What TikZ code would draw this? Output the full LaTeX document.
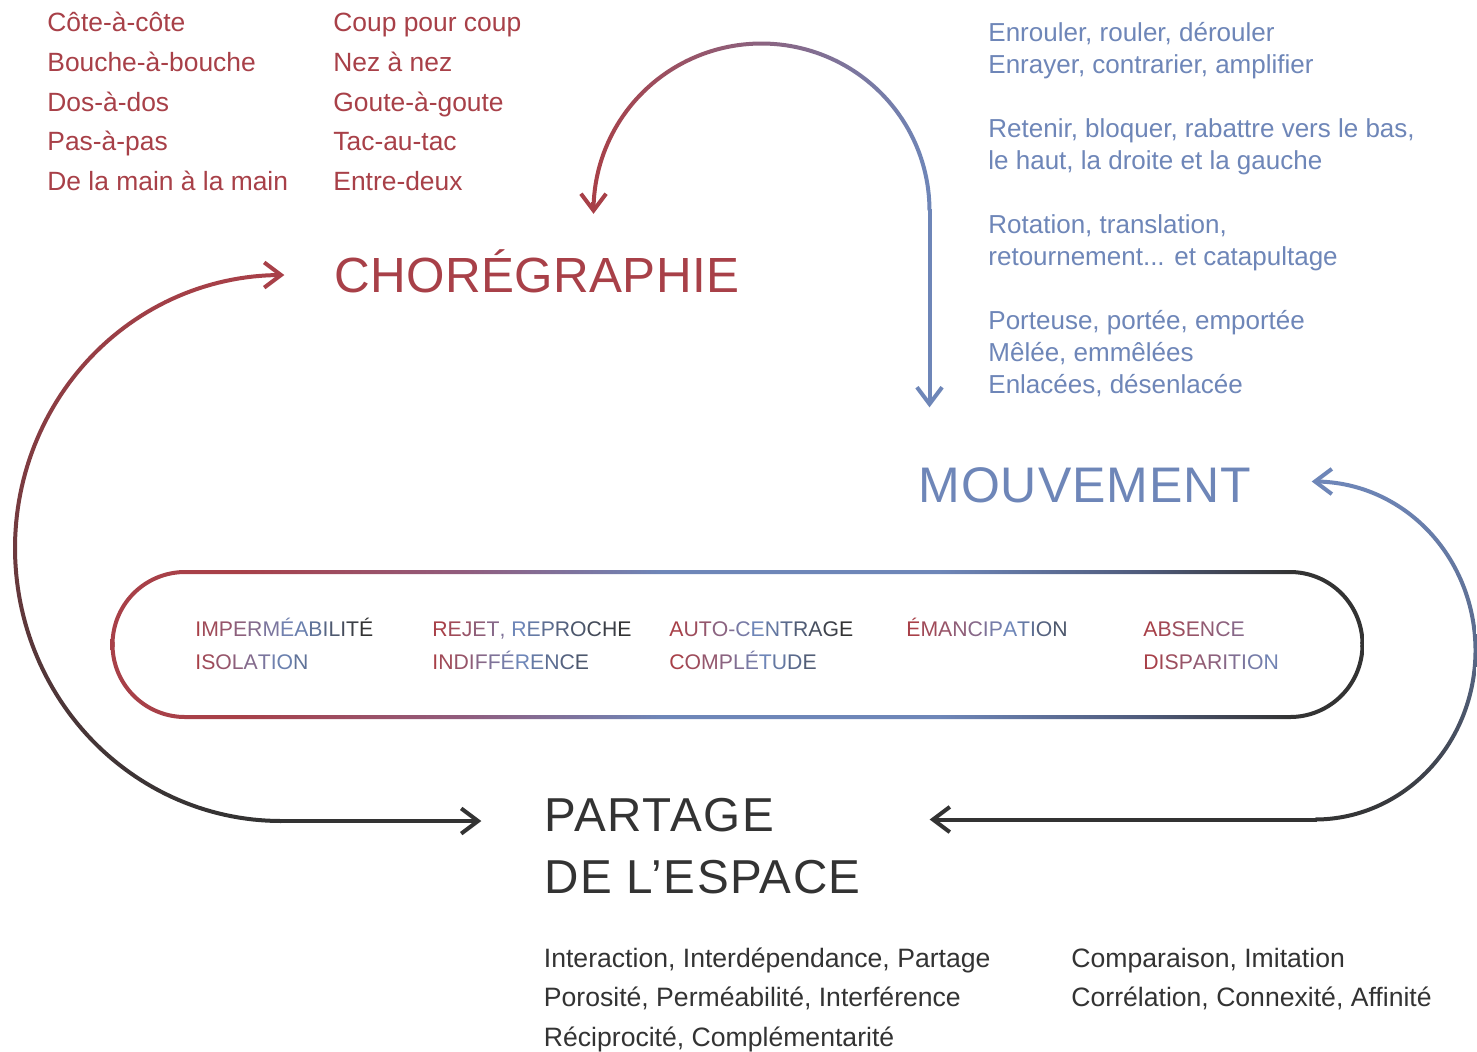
\documentclass[tikz,border=0pt]{standalone}
\usepackage{fontspec}
\setmainfont{Liberation Sans}
\usetikzlibrary{calc}
\definecolor{cred}{RGB}{168,64,72}
\definecolor{cblue}{RGB}{110,134,184}
\definecolor{cdark}{RGB}{51,51,51}
\definecolor{cmid}{RGB}{140,98,130}
\definecolor{cmauve}{RGB}{145,92,125}
\definecolor{cslate}{RGB}{80,92,125}
\pgfdeclarehorizontalshading{trackgrad}{100bp}{color(0bp)=(cred); color(30bp)=(cred); color(39bp)=(cmauve); color(47bp)=(cblue); color(58bp)=(cblue); color(66bp)=(cslate); color(72bp)=(cdark); color(100bp)=(cdark)}
\ExplSyntaxOn
\int_new:N \l__grad_idx_int
\fp_new:N \l__grad_t_fp
\NewDocumentCommand \gradtext { m m }
  {
    \int_zero:N \l__grad_idx_int
    \tl_map_inline:nn { #2 }
      {
        \fp_set:Nn \l__grad_t_fp { \l__grad_idx_int / ( #1 - 1 ) }
        \fp_compare:nNnTF { \l__grad_t_fp } < { 0.5 }
          {
            \exp_args:Nx \color
              { cblue ! \fp_eval:n { round ( 200 * \l__grad_t_fp , 2 ) } ! cred }
          }
          {
            \exp_args:Nx \color
              { cdark ! \fp_eval:n { round ( min ( 100 , 200 * ( \l__grad_t_fp - 0.5 ) ) , 2 ) } ! cblue }
          }
        ##1
        \int_incr:N \l__grad_idx_int
      }
  }
\ExplSyntaxOff
\begin{document}
\begin{tikzpicture}[x=0.5pt,y=-0.5pt,
  lbl/.style={anchor=base west, inner sep=0pt},
  redtxt/.style={lbl, text=cred, font=\fontsize{13.2}{16}\selectfont},
  bluetxt/.style={lbl, text=cblue, font=\fontsize{13}{16}\selectfont},
  darktxt/.style={lbl, text=cdark, font=\fontsize{13.3}{16}\selectfont},
  trk/.style={lbl, font=\fontsize{10.6}{13}\selectfont},
  arrowhd/.style={line width=2pt, line join=miter, line cap=butt},
  shaft/.style={line width=2pt, line cap=butt}]
\fill[white] (0,0) rectangle (1477,1051);
\useasboundingbox (0,0) rectangle (1477,1051);

% ---------- red lists ----------
\node[redtxt] (ra1) at (47,31.5) {Côte-à-côte};
\node[redtxt] (ra2) at (47,71.25) {Bouche-à-bouche};
\node[redtxt] (ra3) at (47,111) {Dos-à-dos};
\node[redtxt] (ra4) at (47,150.75) {Pas-à-pas};
\node[redtxt] (ra5) at (47,190.5) {De la main à la main};
\node[redtxt] (rb1) at (333,31.5) {Coup pour coup};
\node[redtxt] (rb2) at (333,71.25) {Nez à nez};
\node[redtxt] (rb3) at (333,111) {Goute-à-goute};
\node[redtxt] (rb4) at (333,150.75) {Tac-au-tac};
\node[redtxt] (rb5) at (333,190.5) {Entre-deux};

% ---------- blue list ----------
\node[bluetxt] (bl1) at (988,41.5) {Enrouler, rouler, dérouler};
\node[bluetxt] (bl2) at (988,73.5) {Enrayer, contrarier, amplifier};
\node[bluetxt] (bl3) at (988,137.5) {Retenir, bloquer, rabattre vers le bas,};
\node[bluetxt] (bl4) at (988,169.5) {le haut, la droite et la gauche};
\node[bluetxt] (bl5) at (988,233.5) {Rotation, translation,};
\node[bluetxt] (bl6) at (988,265.5) {retournement... et catapultage};
\node[bluetxt] (bl7) at (988,329.5) {Porteuse, portée, emportée};
\node[bluetxt] (bl8) at (988,361.5) {Mêlée, emmêlées};
\node[bluetxt] (bl9) at (988,393.5) {Enlacées, désenlacée};

% ---------- titles ----------
\node[lbl, text=cred, font={\fontsize{24.7}{30}\selectfont\addfontfeature{LetterSpace=0.8}}] (chor) at (334,292) {CHORÉGRAPHIE};
\node[lbl, text=cblue, font={\fontsize{25}{30}\selectfont\addfontfeature{LetterSpace=2}}] (mouv) at (918,502) {MOUVEMENT};
\node[lbl, text=cdark, font={\fontsize{23.8}{30}\selectfont\addfontfeature{LetterSpace=3.5}}] (part1) at (544,831) {PARTAGE};
\node[lbl, text=cdark, font={\fontsize{23.8}{30}\selectfont\addfontfeature{LetterSpace=3}}] (part2) at (544,893) {DE L’ESPACE};

% ---------- bottom lists ----------
\node[darktxt] (da1) at (543.5,967.5) {Interaction, Interdépendance, Partage};
\node[darktxt] (da2) at (543.5,1006.5) {Porosité, Perméabilité, Interférence};
\node[darktxt] (da3) at (543.5,1046) {Réciprocité, Complémentarité};
\node[darktxt] (db1) at (1071,967.5) {Comparaison, Imitation};
\node[darktxt] (db2) at (1071,1006.5) {Corrélation, Connexité, Affinité};

% ---------- track ----------
\shade[shading=trackgrad]
  plot[domain=182:90,samples=40] ({185+74.5*cos(\x)},{644.5-74.5*sin(\x)})
  -- plot[domain=90:-2,samples=40] ({1290+74.5*cos(\x)},{644.5-74.5*sin(\x)})
  -- plot[domain=-2:90,samples=40] ({1290+70.5*cos(\x)},{644.5-70.5*sin(\x)})
  -- plot[domain=90:182,samples=40] ({185+70.5*cos(\x)},{644.5-70.5*sin(\x)}) -- cycle;
\shade[shading=trackgrad]
  plot[domain=178:270,samples=40] ({185+74.5*cos(\x)},{644.5-74.5*sin(\x)})
  -- plot[domain=270:362,samples=40] ({1290+74.5*cos(\x)},{644.5-74.5*sin(\x)})
  -- plot[domain=362:270,samples=40] ({1290+70.5*cos(\x)},{644.5-70.5*sin(\x)})
  -- plot[domain=270:178,samples=40] ({185+70.5*cos(\x)},{644.5-70.5*sin(\x)}) -- cycle;

\node[trk] (t1a) at (195,636.5) {\gradtext{14}{IMPERMÉABILITÉ}};
\node[trk] (t1b) at (195,669.5) {\gradtext{14}{ISOLATION}};
\node[trk] (t2a) at (432,636.5) {\gradtext{15}{REJET,~REPROCHE}};
\node[trk] (t2b) at (432,669.5) {\gradtext{15}{INDIFFÉRENCE}};
\node[trk] (t3a) at (669,636.5) {\gradtext{13}{AUTO-CENTRAGE}};
\node[trk] (t3b) at (669,669.5) {\gradtext{13}{COMPLÉTUDE}};
\node[trk] (t4a) at (906,636.5) {\gradtext{15}{ÉMANCIPATION}};
\node[trk] (t5a) at (1143,636.5) {\gradtext{22}{ABSENCE}};
\node[trk] (t5b) at (1143,669.5) {\gradtext{22}{DISPARITION}};

% ---------- arrow end points ----------
\coordinate (tipA) at (593.5,210.5);
\coordinate (tipB) at (929.5,404);
\coordinate (tipC) at (281,275);
\coordinate (tipD) at (478,821);
\coordinate (tipE) at (1315,481.5);
\coordinate (tipF) at (933,819.5);

% ---------- top arc: MOUVEMENT -> CHOREGRAPHIE ----------
\shade[left color=cred, middle color=cmid, right color=cblue]
  plot[domain=180:0,samples=100] ({761.5+170*cos(\x)},{210.5-169*sin(\x)})
  -- plot[domain=0:180,samples=100] ({761.5+166*cos(\x)},{210.5-165*sin(\x)}) -- cycle;
\draw[shaft, cblue] (929.5,209) -- (tipB);
\draw[arrowhd, cred] ($(tipA)+(-12.6,-16.8)$) -- (tipA) -- ($(tipA)+(12.6,-16.8)$);
\draw[arrowhd, cblue] ($(tipB)+(-12.6,-16.8)$) -- (tipB) -- ($(tipB)+(12.6,-16.8)$);

% ---------- left arc ----------
\shade[top color=cred, bottom color=cdark]
  plot[domain=90:270,samples=120] ({281+268*cos(\x)},{548-275*sin(\x)})
  -- plot[domain=270:90,samples=120] ({281+264*cos(\x)},{548-271*sin(\x)}) -- cycle;
\draw[shaft, cdark] (279,821) -- (tipD);
\draw[arrowhd, cred] ($(tipC)+(-16.8,-12.6)$) -- (tipC) -- ($(tipC)+(-16.8,12.6)$);
\draw[arrowhd, cdark] ($(tipD)+(-16.8,-12.6)$) -- (tipD) -- ($(tipD)+(-16.8,12.6)$);

% ---------- right arc ----------
\shade[top color=cblue, bottom color=cdark, middle color=cblue!65!cdark]
  plot[domain=90:-90,samples=120] ({1315+162.5*cos(\x)},{650.5-171*sin(\x)})
  -- plot[domain=-90:90,samples=120] ({1315+158.5*cos(\x)},{650.5-167*sin(\x)}) -- cycle;
\draw[shaft, cdark] (1317,819.5) -- (tipF);
\draw[arrowhd, cblue] ($(tipE)+(16.8,-12.6)$) -- (tipE) -- ($(tipE)+(16.8,12.6)$);
\draw[arrowhd, cdark] ($(tipF)+(16.8,-12.6)$) -- (tipF) -- ($(tipF)+(16.8,12.6)$);
\end{tikzpicture}
\end{document}
